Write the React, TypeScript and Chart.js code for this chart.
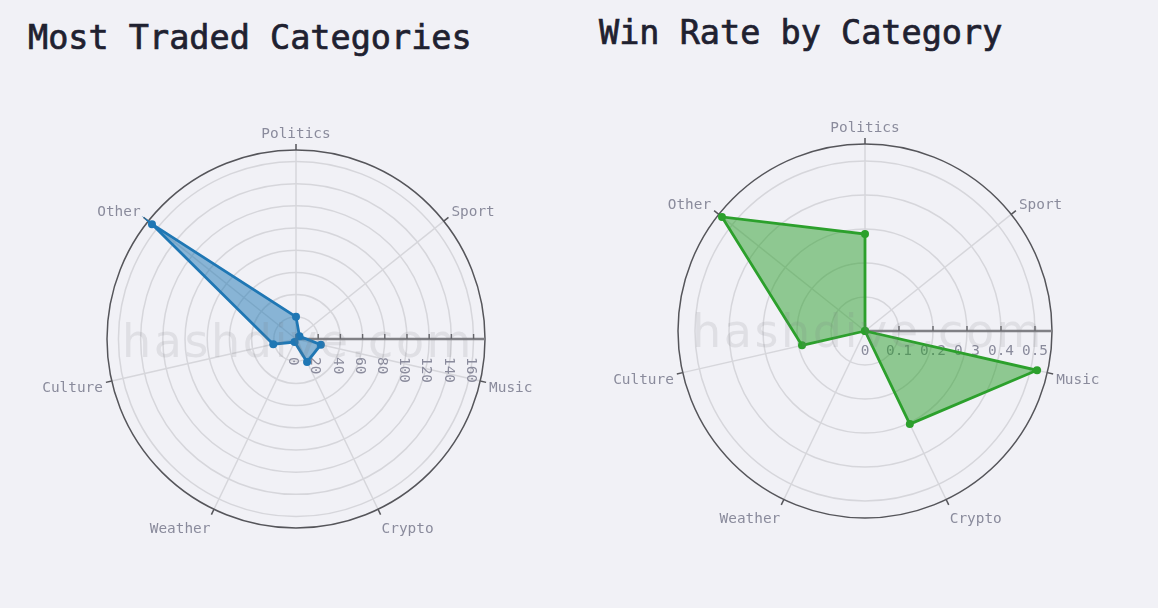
import { useEffect, useRef } from 'react';
import { Chart, registerables } from 'chart.js';

Chart.register(...registerables);

const categories = ['Politics', 'Sport', 'Music', 'Crypto', 'Weather', 'Culture', 'Other'];

const tradedValues = [20, 4, 23, 23, 3, 21, 166];
const tradedTicks = [0, 20, 40, 60, 80, 100, 120, 140, 160];
const tradedMax = 170.3;

const winRateValues = [0.285, 0, 0.519, 0.304, 0, 0.19, 0.538];
const winRateTicks = [0, 0.1, 0.2, 0.3, 0.4, 0.5];
const winRateMax = 0.55;

const MONO = '"DejaVu Sans Mono", monospace';
const LABEL_COLOR = '#8a8b9c';

const polarDecor = (rotateTicks: boolean) => ({
  id: 'polarDecor',
  beforeDatasetsDraw(chart: any) {
    const scale = chart.scales.r;
    const { xCenter, yCenter, drawingArea } = scale;
    const ctx = chart.ctx;
    ctx.save();

    // outer ring
    ctx.strokeStyle = '#55555a';
    ctx.lineWidth = 1.5;
    ctx.beginPath();
    ctx.arc(xCenter, yCenter, drawingArea, 0, Math.PI * 2);
    ctx.stroke();

    // radial axis along the east direction
    ctx.strokeStyle = '#808085';
    ctx.lineWidth = 2.4;
    ctx.beginPath();
    ctx.moveTo(xCenter, yCenter);
    ctx.lineTo(xCenter + drawingArea, yCenter);
    ctx.stroke();

    ctx.font = `14.4px ${MONO}`;
    ctx.fillStyle = LABEL_COLOR;
    scale.ticks.forEach((tick: any) => {
      const x = xCenter + scale.getDistanceFromCenterForValue(tick.value);
      ctx.strokeStyle = '#66666b';
      ctx.lineWidth = 1.4;
      ctx.beginPath();
      ctx.moveTo(x, yCenter);
      ctx.lineTo(x, yCenter - 5);
      ctx.stroke();
      ctx.save();
      if (rotateTicks) {
        ctx.translate(x - 3, yCenter + 18);
        ctx.rotate(Math.PI / 2);
        ctx.textAlign = 'left';
        ctx.textBaseline = 'middle';
        ctx.fillText(tick.label, 0, 0);
      } else {
        ctx.textAlign = 'center';
        ctx.textBaseline = 'middle';
        ctx.fillText(tick.label, x, yCenter + 20.5);
      }
      ctx.restore();
    });

    // category labels and their outside ticks
    categories.forEach((name, i) => {
      const angle = (i * 2 * Math.PI) / categories.length;
      const edge = scale.getPointPosition(i, drawingArea);
      const tip = scale.getPointPosition(i, drawingArea + 6);
      ctx.strokeStyle = '#55555a';
      ctx.lineWidth = 1.5;
      ctx.beginPath();
      ctx.moveTo(edge.x, edge.y);
      ctx.lineTo(tip.x, tip.y);
      ctx.stroke();

      const side = Math.sin(angle);
      const gap = Math.abs(side) < 0.5 ? 1 : 3;
      ctx.textAlign = Math.abs(side) < 0.01 ? 'center' : side > 0 ? 'left' : 'right';
      ctx.textBaseline = 'middle';
      ctx.fillText(name, tip.x + Math.sign(Math.round(side * 100)) * gap, tip.y + 3 - 13 * Math.cos(angle));
    });
    ctx.restore();
  }
});

interface PanelProps {
  left: number;
  width: number;
  values: number[];
  ticks: number[];
  max: number;
  color: string;
  fill: string;
  padding: { left: number; right: number; top: number; bottom: number };
  rotateTicks: boolean;
}

const RadarPanel = ({ left, width, values, ticks, max, color, fill, padding, rotateTicks }: PanelProps) => {
  const canvas = useRef<HTMLCanvasElement | null>(null);

  useEffect(() => {
    const node = canvas.current;
    if (!node) {
      return;
    }
    const chart = new Chart(node, {
      type: 'radar',
      data: {
        labels: categories,
        datasets: [
          {
            data: values,
            borderColor: color,
            backgroundColor: fill,
            borderWidth: 2.8,
            pointBackgroundColor: color,
            pointBorderColor: color,
            pointBorderWidth: 0,
            pointRadius: 4,
            fill: true,
            tension: 0
          }
        ]
      },
      options: {
        responsive: false,
        animation: false,
        layout: { padding },
        plugins: { legend: { display: false }, title: { display: false }, tooltip: { enabled: false } },
        scales: {
          r: {
            min: 0,
            max,
            afterBuildTicks: (scale: any) => {
              scale.ticks = ticks.map((value) => ({ value }));
            },
            ticks: { display: false, callback: (v: any) => String(v) },
            grid: { circular: true, color: '#d6d6db', lineWidth: 1.5 },
            angleLines: { color: '#d6d6db', lineWidth: 1.5 },
            pointLabels: { display: false }
          }
        }
      },
      plugins: [polarDecor(rotateTicks)]
    } as any);

    return () => {
      chart.destroy();
    };
  }, []);

  return (
    <canvas
      ref={canvas}
      width={width}
      height={608}
      style={{ position: 'absolute', left, top: 0, width, height: 608 }}
      role="img"
    />
  );
};

const titleStyle: React.CSSProperties = {
  position: 'absolute',
  fontFamily: MONO,
  fontSize: 33.5,
  fontWeight: 400,
  WebkitTextStroke: '0.7px #1f2130',
  color: '#1f2130',
  whiteSpace: 'pre',
  lineHeight: '40px'
};

const markStyle: React.CSSProperties = {
  position: 'absolute',
  fontFamily: '"DejaVu Sans", sans-serif',
  fontSize: 46,
  letterSpacing: 2.6,
  color: 'rgba(120,120,130,0.15)',
  whiteSpace: 'pre',
  lineHeight: '50px',
  pointerEvents: 'none'
};

export default function App() {
  return (
    <div style={{ position: 'fixed', left: 0, top: 0, width: 1158, height: 608, background: '#f1f1f6', overflow: 'hidden' }}>
      <div style={{ ...titleStyle, left: 28, top: 18 }}>Most Traded Categories</div>
      <div style={{ ...titleStyle, left: 599, top: 13 }}>Win Rate by Category</div>
      <RadarPanel
        left={0}
        width={578}
        values={tradedValues}
        ticks={tradedTicks}
        max={tradedMax}
        color="#1f77b4"
        fill="rgba(31,119,180,0.5)"
        padding={{ left: 107, right: 93, top: 150, bottom: 80 }}
        rotateTicks
      />
      <RadarPanel
        left={578}
        width={580}
        values={winRateValues}
        ticks={winRateTicks}
        max={winRateMax}
        color="#2ca02c"
        fill="rgba(44,160,44,0.5)"
        padding={{ left: 100, right: 106, top: 144, bottom: 90 }}
        rotateTicks={false}
      />
      <div style={{ ...markStyle, left: 122, top: 316 }}>hashdive.com</div>
      <div style={{ ...markStyle, left: 692, top: 306 }}>hashdive.com</div>
    </div>
  );
}
